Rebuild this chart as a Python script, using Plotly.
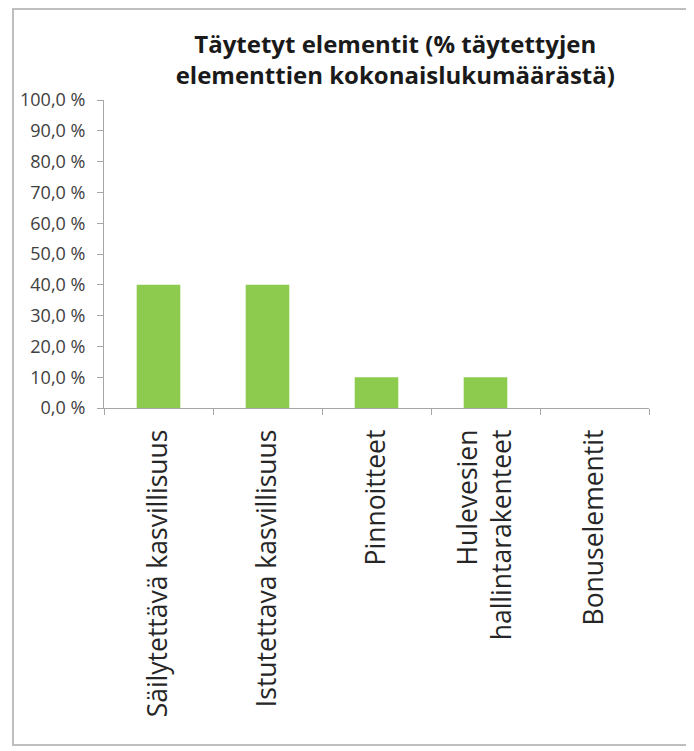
import plotly.graph_objects as go

# Dados do gráfico
categorias = [
    'Säilytettävä kasvillisuus',
    'Istutettava kasvillisuus',
    'Pinnoitteet',
    'Hulevesien<br>hallintarakenteet',
    'Bonuselementit',
]
percentuais = [40.0, 40.0, 10.0, 10.0, 0.0]
ticks_y = [0, 10, 20, 30, 40, 50, 60, 70, 80, 90, 100]
rotulos_y = ['0,0 %', '10,0 %', '20,0 %', '30,0 %', '40,0 %', '50,0 %',
             '60,0 %', '70,0 %', '80,0 %', '90,0 %', '100,0 %']

cor_barra = '#8DCB4F'
cor_eixo = '#A6A6A6'
cor_texto = '#262626'

fig = go.Figure(go.Bar(
    x=categorias,
    y=percentuais,
    marker_color=cor_barra,
    marker_line_width=0,
))

fig.update_layout(
    width=694, height=751,
    title={
        'text': '<b>Täytetyt elementit (% täytettyjen<br>elementtien kokonaislukumäärästä)</b>',
        'x': 0.558, 'xanchor': 'center',
        'y': 0.940, 'yanchor': 'middle',
        'font': {'family': 'Open Sans', 'size': 24, 'color': '#1a1a1a'},
    },
    font={'family': 'Open Sans', 'color': cor_texto},
    bargap=0.6,
    showlegend=False,
    margin=dict(l=96, r=53, t=92, b=351),
    paper_bgcolor='white',
    plot_bgcolor='white',
)

fig.update_xaxes(
    type='category',
    tickson='boundaries',
    ticks='outside', ticklen=6, tickcolor=cor_eixo,
    showline=True, linecolor=cor_eixo, linewidth=1,
    showgrid=False,
    tickangle=-90,
    ticklabelstandoff=10,
    tickfont={'size': 26.5, 'color': cor_texto},
)

fig.update_yaxes(
    range=[0, 100],
    tickvals=ticks_y,
    ticktext=rotulos_y,
    ticks='outside', ticklen=6, tickcolor=cor_eixo,
    showline=True, linecolor=cor_eixo, linewidth=1,
    showgrid=False, zeroline=False,
    ticklabelstandoff=8,
    tickfont={'size': 18, 'color': '#404040'},
)

# Moldura do gráfico
fig.add_shape(
    type='rect', xref='paper', yref='paper',
    x0=-91 / 545, x1=1 + 39 / 545,
    y0=-337 / 308, y1=1 + 91 / 308,
    line=dict(color='#BFBFBF', width=2),
    fillcolor='rgba(0,0,0,0)',
)

fig.write_html("out.html")
